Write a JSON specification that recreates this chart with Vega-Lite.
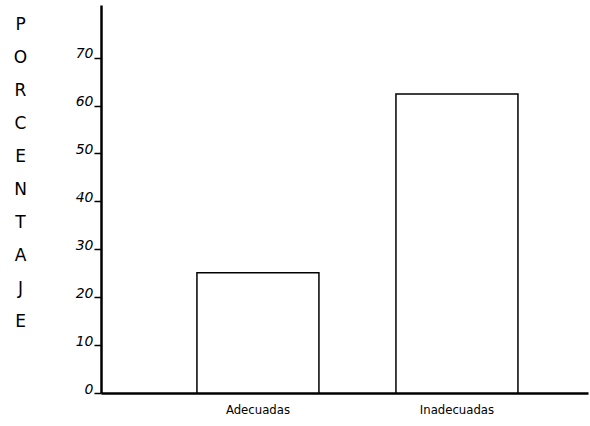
{
  "$schema": "https://vega.github.io/schema/vega-lite/v6.json",
  "width": 487,
  "height": 388,
  "autosize": {"type": "none"},
  "padding": {"left": 101, "top": 5, "right": 2, "bottom": 33},
  "background": "white",
  "config": {
    "view": {"stroke": null},
    "axis": {"grid": false, "domainColor": "black", "tickColor": "black", "labelColor": "black", "titleColor": "black", "labelFont": "DejaVu Sans", "titleFont": "DejaVu Sans"}
  },
  "data": {
    "values": [
      {"categoria": "Adecuadas", "porcentaje": 25.1},
      {"categoria": "Inadecuadas", "porcentaje": 62.4}
    ]
  },
  "mark": {"type": "bar", "fill": "white", "stroke": "black", "strokeWidth": 1.5},
  "encoding": {
    "x": {
      "field": "categoria",
      "type": "nominal",
      "sort": null,
      "scale": {"paddingInner": 0.387, "paddingOuter": 0.417, "align": 0.578},
      "axis": {
        "title": null,
        "labelAngle": 0,
        "ticks": false,
        "domainWidth": 2.5,
        "labelPadding": 10,
        "labelFontSize": 13,
        "labelFont": "DejaVu Sans Condensed"
      }
    },
    "y": {
      "field": "porcentaje",
      "type": "quantitative",
      "scale": {"domain": [0, 81], "nice": false},
      "axis": {
        "values": [0, 10, 20, 30, 40, 50, 60, 70],
        "domainWidth": 2.5,
        "tickSize": 7,
        "tickWidth": 1.5,
        "labelPadding": 1,
        "labelFontSize": 14,
        "labelFontStyle": "italic",
        "labelBaseline": "alphabetic",
        "title": ["P", "O", "R", "C", "E", "N", "T", "A", "J", "E"],
        "titleAngle": 0,
        "titleFontSize": 17,
        "titleFontWeight": "normal",
        "titleLineHeight": 33,
        "titleX": -81,
        "titleY": 11,
        "titleAlign": "center",
        "titleBaseline": "top"
      }
    }
  }
}
